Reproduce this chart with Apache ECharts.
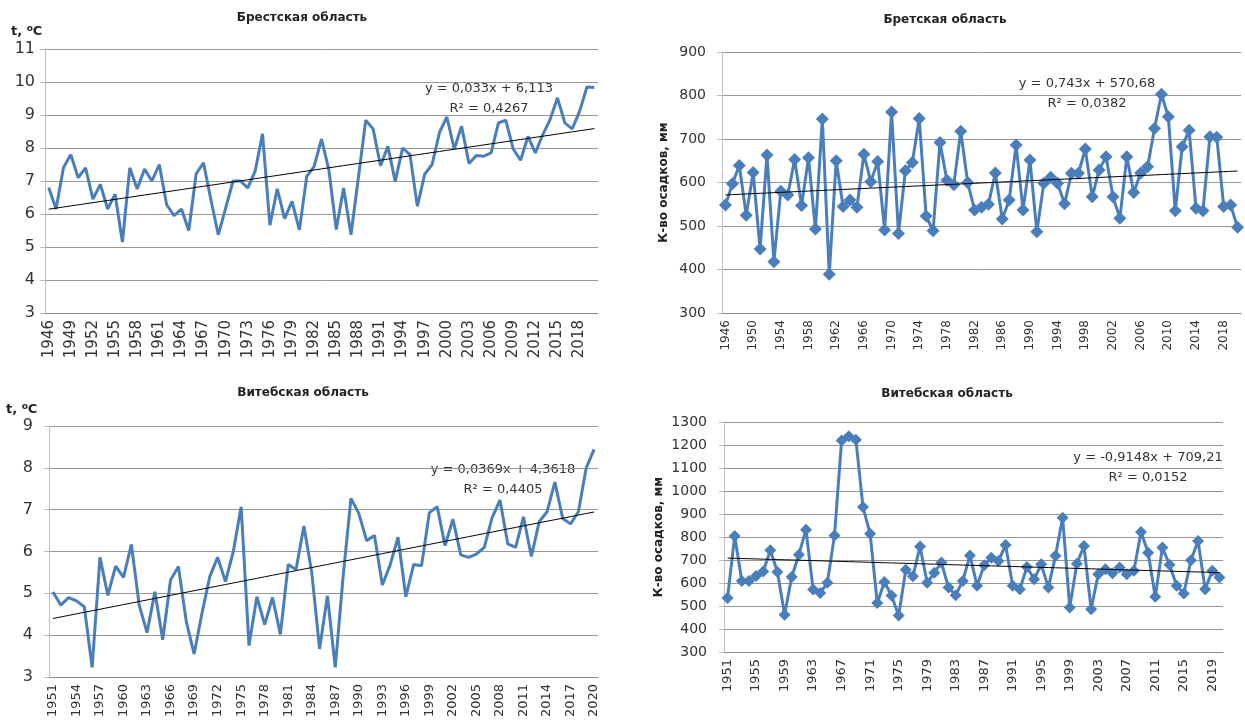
<!DOCTYPE html>
<html>
<head>
<meta charset="utf-8">
<script src="https://cdn.jsdelivr.net/npm/echarts@6/dist/echarts.min.js"></script>
<style>
  html, body { margin: 0; padding: 0; background: #fff; }
  #chart { width: 1245px; height: 722px; }
</style>
</head>
<body>
<div id="chart"></div>
<script>
// Year categories
function yearRange(from, to) { const a = []; for (let y = from; y <= to; y++) a.push(String(y)); return a; }
const yearsBrest = yearRange(1946, 2020);
const yearsVitebsk = yearRange(1951, 2020);

// Брестская область: mean annual temperature, °C (1946–2020)
const brestTemp = [
  6.8, 6.15, 7.4, 7.8, 7.1, 7.4, 6.45, 6.9, 6.15, 6.6,
  5.15, 7.4, 6.76, 7.36, 7.0, 7.5, 6.28, 5.95, 6.15, 5.5,
  7.22, 7.55, 6.43, 5.37, 6.18, 7.0, 7.0, 6.79, 7.3, 8.43,
  5.66, 6.76, 5.86, 6.38, 5.52, 7.14, 7.44, 8.27, 7.34, 5.53,
  6.79, 5.37, 7.1, 8.84, 8.58, 7.46, 8.05, 6.99, 8.0, 7.8,
  6.23, 7.21, 7.5, 8.47, 8.94, 7.97, 8.66, 7.53, 7.77, 7.75,
  7.85, 8.76, 8.84, 7.97, 7.63, 8.35, 7.85, 8.4, 8.86, 9.52,
  8.76, 8.58, 9.11, 9.85, 9.83
];

// Брестская область: annual precipitation, mm (1946–2020)
const brestPrecip = [
  548, 597, 639, 525, 623, 447, 663, 418, 580, 571,
  653, 547, 657, 493, 746, 389, 650, 545, 560, 543,
  665, 602, 648, 491, 762, 483, 627, 646, 747, 523,
  489, 692, 605, 595, 718, 600, 537, 543, 550, 622,
  516, 560, 686, 537, 652, 487, 598, 612, 598, 551,
  621, 621, 677, 567, 629, 659, 567, 518, 659, 577,
  622, 636, 724, 803, 751, 535, 682, 720, 541, 535,
  705, 704, 545, 548, 497
];

// Витебская область: mean annual temperature, °C (1951–2020)
const vitebskTemp = [
  5.03, 4.72, 4.9, 4.82, 4.68, 3.23, 5.86, 4.95, 5.65, 5.38,
  6.17, 4.72, 4.06, 5.04, 3.89, 5.32, 5.64, 4.33, 3.55, 4.52,
  5.4, 5.86, 5.28, 6.0, 7.07, 3.75, 4.92, 4.25, 4.9, 4.02,
  5.69, 5.57, 6.61, 5.5, 3.67, 4.94, 3.23, 5.4, 7.27, 6.91,
  6.26, 6.38, 5.2, 5.68, 6.34, 4.92, 5.69, 5.66, 6.93, 7.07,
  6.14, 6.77, 5.92, 5.86, 5.94, 6.1, 6.81, 7.23, 6.18, 6.1,
  6.83, 5.88, 6.71, 6.95, 7.66, 6.79, 6.66, 6.95, 8.0, 8.44
];

// Витебская область: annual precipitation, mm (1951–2020)
const vitebskPrecip = [
  535, 804, 609, 609, 630, 650, 742, 648, 462, 626,
  723, 832, 572, 557, 601, 807, 1220, 1238, 1223, 930,
  814, 513, 604, 546, 459, 658, 629, 759, 601, 645,
  689, 580, 547, 609, 720, 588, 677, 710, 696, 765,
  588, 573, 670, 616, 681, 580, 718, 884, 494, 684,
  761, 486, 638, 660, 642, 667, 638, 653, 822, 732,
  540, 754, 679, 588, 554, 699, 783, 573, 653, 624
];

// Linear trends [slope, intercept], x = 1, 2, 3, ...
const brestTempTrend = [0.033, 6.113];
const brestPrecipTrend = [0.743, 570.68];
const vitebskTempTrend = [0.0369, 4.3618];
const vitebskPrecipTrend = [-0.9148, 709.21];

// Chart titles and trend labels
const titles = ['Брестская область', 'Бретская область', 'Витебская область', 'Витебская область'];
const eqLabels = [
  ['y = 0,033x + 6,113', 'R² = 0,4267'],
  ['y = 0,743x + 570,68', 'R² = 0,0382'],
  ['y = 0,0369x + 4,3618', 'R² = 0,4405'],
  ['y = -0,9148x + 709,21', 'R² = 0,0152']
];
const precipAxisName = 'К-во осадков, мм';

const BLUE = '#4a7ebb';
const FONT = 'DejaVu Sans';

function trendLine(cats, coef) { return cats.map((c, i) => +(coef[0] * (i + 1) + coef[1]).toFixed(4)); }

const grids = [
  { left: 45, top: 49, width: 553, height: 264 },
  { left: 722, top: 52, width: 519, height: 261 },
  { left: 49, top: 426, width: 549, height: 251 },
  { left: 724, top: 422, width: 499, height: 230 }
];

function xAxis(idx, cats, labelInterval, fontSize) {
  return {
    type: 'category', gridIndex: idx, data: cats, boundaryGap: true,
    axisLine: { lineStyle: { color: '#8c8c8c', width: 1 } },
    axisTick: { interval: 0, length: 5, lineStyle: { color: '#8c8c8c' } },
    axisLabel: { interval: labelInterval, rotate: 90, margin: 7, fontFamily: FONT, fontSize: fontSize, color: '#333' },
    splitLine: { show: false }
  };
}
function yAxis(idx, min, max, interval, fontSize, margin, extra) {
  return Object.assign({
    type: 'value', gridIndex: idx, min: min, max: max, interval: interval,
    axisLine: { show: true, lineStyle: { color: '#bfbfbf' } },
    axisTick: { show: true, length: 5, lineStyle: { color: '#bfbfbf' } },
    axisLabel: { fontFamily: FONT, fontSize: fontSize, color: '#333', margin: margin, formatter: v => String(v) },
    splitLine: { lineStyle: { color: '#969696', width: 1 } }
  }, extra || {});
}

function precipName(gap) {
  return {
    name: precipAxisName, nameLocation: 'middle', nameGap: gap, nameRotate: 90,
    nameTextStyle: { fontFamily: FONT, fontWeight: 'bold', fontSize: 12, color: '#222' }
  };
}

const titleCenters = [[302, 12], [945, 14], [303, 387], [947, 388]];
const eqCenters = [[489, 79], [1087, 74], [503, 460], [1148, 448]];

const graphics = [];
titles.forEach((t, i) => graphics.push({
  type: 'text', x: titleCenters[i][0], y: titleCenters[i][1],
  style: { text: t, font: 'bold 12px "DejaVu Sans"', fill: '#222', align: 'center' }
}));
eqLabels.forEach((lines, i) => graphics.push({
  type: 'text', x: eqCenters[i][0], y: eqCenters[i][1],
  style: { text: lines.join('\n'), font: '13px "DejaVu Sans"', fill: '#333', align: 'center', lineHeight: 20 }
}));
[[11, 24], [6, 402]].forEach(p => graphics.push({
  type: 'text', x: p[0], y: p[1],
  style: {
    text: '{a|t, }{s|o}{a|C}',
    rich: {
      a: { fontFamily: FONT, fontWeight: 'bold', fontSize: 13, fill: '#222', color: '#222' },
      s: { fontFamily: FONT, fontWeight: 'bold', fontSize: 9, fill: '#222', color: '#222', verticalAlign: 'top', padding: [0, 0, 6, 0] }
    }
  }
}));

function precipSeries(xi, data, size) {
  return {
    type: 'line', xAxisIndex: xi, yAxisIndex: xi, data: data,
    symbol: 'diamond', symbolSize: size, showAllSymbol: true,
    itemStyle: { color: BLUE }, lineStyle: { color: BLUE, width: 3 }, z: 3
  };
}
function tempSeries(xi, data) {
  return { type: 'line', xAxisIndex: xi, yAxisIndex: xi, data: data, showSymbol: false, lineStyle: { color: BLUE, width: 3 }, z: 3 };
}
function trendSeries(xi, data) {
  return { type: 'line', xAxisIndex: xi, yAxisIndex: xi, data: data, showSymbol: false, lineStyle: { color: '#000', width: 1 }, z: 4, silent: true };
}

const option = {
  backgroundColor: '#fff',
  animation: false,
  grid: grids,
  xAxis: [
    xAxis(0, yearsBrest, 2, 15),
    xAxis(1, yearsBrest, 3, 12),
    xAxis(2, yearsVitebsk, 2, 13),
    xAxis(3, yearsVitebsk, 3, 13)
  ],
  yAxis: [
    yAxis(0, 3, 11, 1, 16, 10),
    yAxis(1, 300, 900, 100, 14, 16, precipName(52)),
    yAxis(2, 3, 9, 1, 16, 16),
    yAxis(3, 300, 1300, 100, 14, 17, precipName(59))
  ],
  series: [
    tempSeries(0, brestTemp),
    trendSeries(0, trendLine(yearsBrest, brestTempTrend)),
    precipSeries(1, brestPrecip, 13),
    trendSeries(1, trendLine(yearsBrest, brestPrecipTrend)),
    tempSeries(2, vitebskTemp),
    trendSeries(2, trendLine(yearsVitebsk, vitebskTempTrend)),
    precipSeries(3, vitebskPrecip, 12),
    trendSeries(3, trendLine(yearsVitebsk, vitebskPrecipTrend))
  ],
  graphic: graphics
};

const chart = echarts.init(document.getElementById('chart'), null, { renderer: 'canvas' });
chart.setOption(option);
</script>
</body>
</html>
